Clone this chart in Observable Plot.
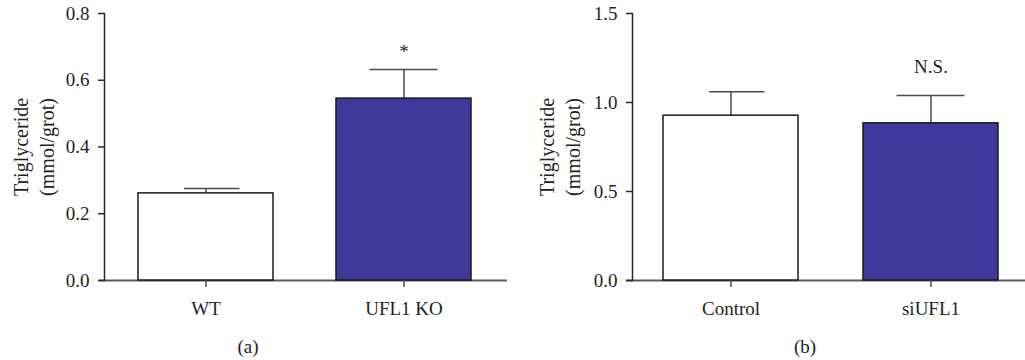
<!DOCTYPE html>
<html><head><meta charset="utf-8">
<script src="https://cdn.jsdelivr.net/npm/d3@7"></script>
<script src="https://cdn.jsdelivr.net/npm/@observablehq/plot@0.6"></script>
<style>
body{margin:0;background:#fff;}
#wrap{position:relative;width:1025px;height:360px;font-family:"Liberation Serif",serif;overflow:hidden;}
.panel{position:absolute;top:0;}
.cap{position:absolute;font-size:19px;color:#231f20;transform:translate(-50%,-50%);white-space:nowrap;}
</style></head><body>
<div id="wrap">
<div class="panel" id="pa" style="left:0;width:520px"></div>
<div class="panel" id="pb" style="left:515px;width:510px"></div>
<div class="cap" style="left:248px;top:347px">(a)</div>
<div class="cap" style="left:805px;top:347px">(b)</div>
</div>
<script>
// Panel (a)
const groupsA = ["WT", "UFL1 KO"];
const meansA = [0.261, 0.545];
const errsA = [0.015, 0.087];
const sigA = ["", "*"];
const ticksA = [0, 0.2, 0.4, 0.6, 0.8];
// Panel (b)
const groupsB = ["Control", "siUFL1"];
const meansB = [0.926, 0.883];
const errsB = [0.135, 0.157];
const sigB = ["", "N.S."];
const ticksB = [0, 0.5, 1.0, 1.5];
const yLabel = "Triglyceride\n(mmol/grot)";

const FS = 19;
const FF = '"Liberation Serif", serif';
function panel(o) {
  const data = o.groups.map((g, i) => ({g, m: o.means[i], e: o.means[i] + o.errs[i], s: o.sig[i], k: i}));
  return Plot.plot({
    width: o.width, height: 325,
    marginTop: 13, marginBottom: 45, marginLeft: o.marginLeft, marginRight: o.marginRight,
    style: {fontFamily: FF, fontSize: FS + "px", color: "#231f20", background: "transparent", overflow: "visible"},
    x: {domain: o.groups, paddingInner: o.paddingInner, paddingOuter: o.paddingOuter, align: o.align, label: null},
    y: {domain: [0, o.yMax], label: null},
    color: {domain: o.groups, range: ["#ffffff", "#3d3a9c"]},
    marks: [
      Plot.ruleY([0], {stroke: "#5a5a5a", strokeWidth: 2, insetLeft: -o.axisInset}),
      Plot.ruleX(data, {x: "g", y1: "m", y2: "e", stroke: "#4a4a4a", strokeWidth: 1.5}),
      Plot.tickY(data.filter(d => d.k === 0), {x: "g", y: "e", stroke: "#4a4a4a", strokeWidth: 1.5, insetLeft: 46, insetRight: 33.5}),
      Plot.tickY(data.filter(d => d.k === 1), {x: "g", y: "e", stroke: "#4a4a4a", strokeWidth: 1.5, insetLeft: 33.5, insetRight: 33.5}),
      Plot.barY(data, {x: "g", y: "m", fill: "g", stroke: "#1a1a1a", strokeWidth: 1.5}),
      Plot.text(data, {x: "g", y: "e", text: "s", dy: o.sigDy, fill: "#231f20", fontSize: FS, fontFamily: FF}),
      Plot.frame({anchor: "left", stroke: "#2a2a2a", strokeWidth: 1.5}),
      Plot.axisY({ticks: o.ticks, tickFormat: d3.format(".1f"), tickSize: 6, tickPadding: 9, stroke: "#2a2a2a", strokeWidth: 1.5, fontSize: FS, fontFamily: FF}),
      Plot.axisX({tickSize: 7, tickPadding: 14, stroke: "#4a4a4a", strokeWidth: 1.5, fontSize: FS, fontFamily: FF}),
      Plot.text([yLabel], {frameAnchor: "left", textAnchor: "middle", rotate: -90, dx: o.labelDx, lineHeight: 1.29, fill: "#231f20", fontSize: 20, fontFamily: FF})
    ]
  });
}

document.getElementById("pa").append(panel({
  groups: groupsA, means: meansA, errs: errsA, sig: sigA, ticks: ticksA, yMax: 0.8,
  width: 520, marginLeft: 104, marginRight: 13,
  paddingInner: 0.32, paddingOuter: 0.1726, align: 0.48, axisInset: 5, sigDy: -18, labelDx: -72
}));
document.getElementById("pb").append(panel({
  groups: groupsB, means: meansB, errs: errsB, sig: sigB, ticks: ticksB, yMax: 1.5,
  width: 510, marginLeft: 117, marginRight: 0,
  paddingInner: 0.324, paddingOuter: 0.142, align: 0.544, axisInset: 6, sigDy: -28, labelDx: -74
}));
</script>
</body></html>
